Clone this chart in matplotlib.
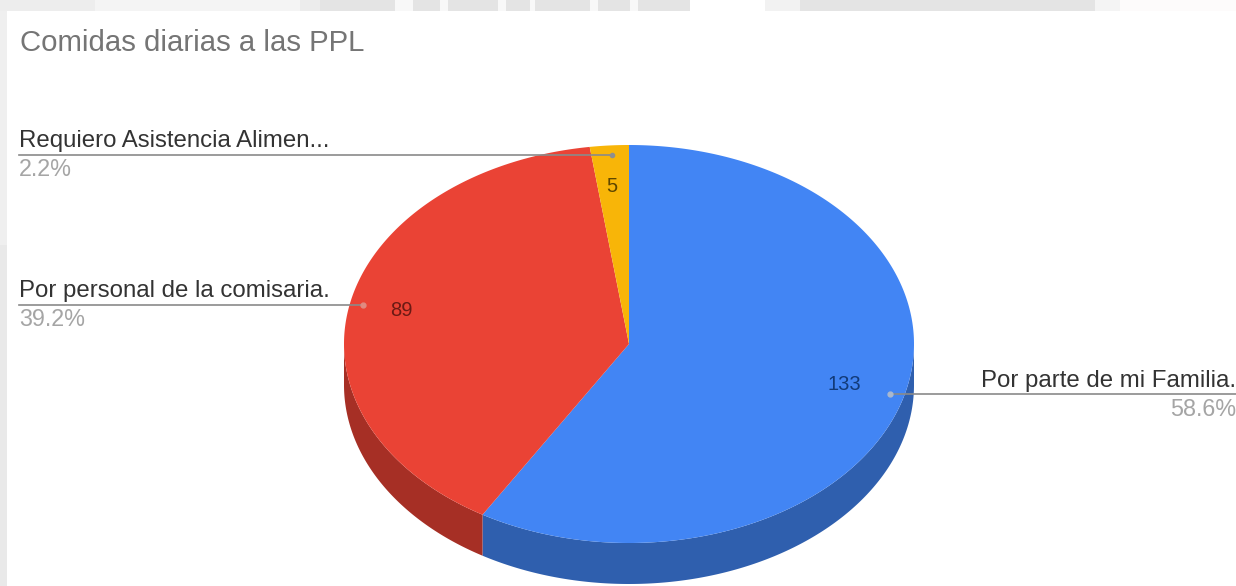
import numpy as np
import matplotlib
matplotlib.use("Agg")
import matplotlib.pyplot as plt
from matplotlib.patches import Polygon, Rectangle

title = "Comidas diarias a las PPL"
labels = ["Por parte de mi Familia.", "Por personal de la comisaria.", "Requiero Asistencia Alimen..."]
values = [133, 89, 5]
percents = ["58.6%", "39.2%", "2.2%"]
top_colors = ["#4285f4", "#ea4335", "#f8b508"]
side_colors = ["#2f5fae", "#a62f25", "#b28503"]

plt.rcParams["font.family"] = ["Liberation Sans", "DejaVu Sans"]

W, H = 1236, 586
CX, CY, RX, RY = 629, 344, 285, 199
DEPTH = 41


def ell(deg, dy=0):
    # angle is clockwise from the top of the pie
    a = np.radians(deg)
    return np.column_stack([CX + RX * np.sin(a), CY - RY * np.cos(a) + dy])


def draw_background(ax):
    ax.add_patch(Rectangle((0, 0), W, 11, fc="#e4e4e4", ec="none", zorder=0))
    ax.add_patch(Rectangle((0, 0), 7, H, fc="#efefef", ec="none", zorder=0))
    # pale stripes of the screenshot behind the card
    for x0, w, c in [(0, 95, "#ededed"), (95, 205, "#f4f4f4"), (300, 20, "#ececec"),
                     (395, 18, "#f8f8f8"), (440, 8, "#f8f8f8"), (498, 8, "#f8f8f8"),
                     (530, 5, "#f8f8f8"), (590, 8, "#f8f8f8"), (630, 8, "#f8f8f8"),
                     (690, 75, "#ffffff"), (765, 35, "#f2f2f2"), (1095, 25, "#f4f4f4"),
                     (1120, 116, "#fdfbfb")]:
        ax.add_patch(Rectangle((x0, 0), w, 11, fc=c, ec="none", zorder=0))
    ax.add_patch(Rectangle((0, 245), 7, 341, fc="#e9e9e9", ec="none", zorder=0))


def draw_pie(ax):
    edges = np.concatenate([[0], np.cumsum(values)]) / sum(values) * 360
    for i in range(len(values)):
        start, end = edges[i], edges[i + 1]
        # side wall, only the front half of the ellipse shows
        s, e = max(start, 90), min(end, 270)
        if s < e:
            t = np.linspace(s, e, 200)
            wall = np.vstack([ell(t), ell(t[::-1], DEPTH)])
            ax.add_patch(Polygon(wall, fc=side_colors[i], ec="none", zorder=2))
        t = np.linspace(start, end, 300)
        face = np.vstack([[CX, CY], ell(t)])
        ax.add_patch(Polygon(face, fc=top_colors[i], ec="none", zorder=3))


def draw_labels(ax):
    ax.text(20, 43, title, fontsize=21.2, color="#757575", ha="left", va="center")

    # right label
    ax.plot([890, W], [394, 394], color="#8a8a8a", lw=1.2, zorder=4)
    ax.plot([890], [394], "o", ms=3.5, color="#a9b8cf", zorder=5)
    ax.text(1236, 381, labels[0], fontsize=17.3, color="#333333", ha="right", va="center")
    ax.text(1236, 409, percents[0], fontsize=16.8, color="#a5a5a5", ha="right", va="center")

    # left labels
    ax.plot([19, 363], [305, 305], color="#8a8a8a", lw=1.2, zorder=4)
    ax.plot([363], [305], "o", ms=3.5, color="#e08a80", zorder=5)
    ax.text(19, 291, labels[1], fontsize=17.3, color="#333333", ha="left", va="center")
    ax.text(19, 319, percents[1], fontsize=16.8, color="#a5a5a5", ha="left", va="center")

    ax.plot([19, 612], [155, 155], color="#8a8a8a", lw=1.2, zorder=4)
    ax.plot([612], [155], "o", ms=3, color="#8f8f8f", zorder=5)
    ax.text(19, 141, labels[2], fontsize=17.3, color="#333333", ha="left", va="center")
    ax.text(19, 169, percents[2], fontsize=16.8, color="#a5a5a5", ha="left", va="center")

    # values on the slices
    ax.text(844, 385, str(values[0]), fontsize=14.5, color="#123a78", ha="center", va="center", zorder=6)
    ax.text(401, 311, str(values[1]), fontsize=14.5, color="#6b1a14", ha="center", va="center", zorder=6)
    ax.text(612, 187, str(values[2]), fontsize=14.5, color="#5f4700", ha="center", va="center", zorder=6)


def main():
    fig = plt.figure(figsize=(W / 100, H / 100), dpi=100)
    ax = fig.add_axes([0, 0, 1, 1])
    ax.set_xlim(0, W)
    ax.set_ylim(H, 0)
    ax.axis("off")
    draw_background(ax)
    draw_pie(ax)
    draw_labels(ax)
    fig.savefig("out.png", dpi=100)


if __name__ == "__main__":
    main()
